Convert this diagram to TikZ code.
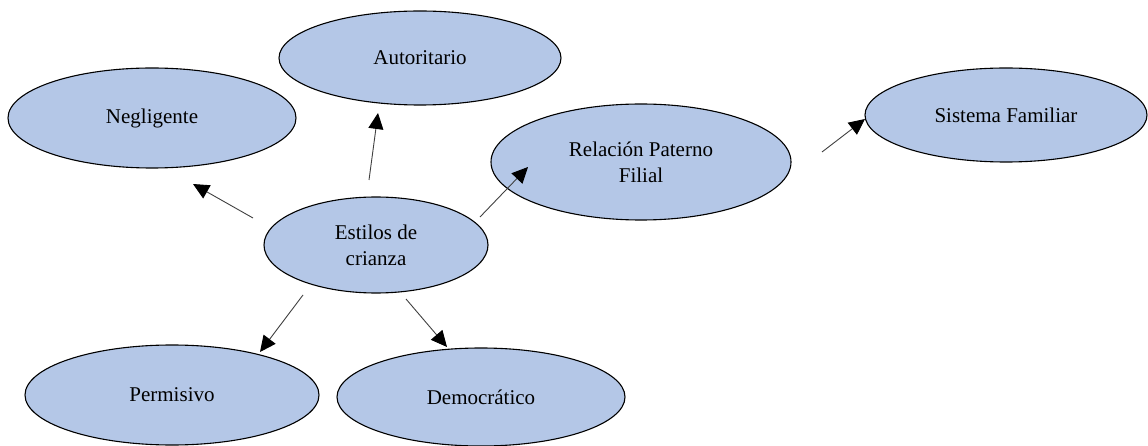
\documentclass[tikz,border=0pt]{standalone}
\usepackage{fontspec}
\setmainfont{Liberation Serif}
\usetikzlibrary{shapes.geometric, positioning, arrows.meta}

\definecolor{azul}{HTML}{B4C7E7}

\tikzset{
  elipse/.style={ellipse, draw=black, line width=1.1pt, fill=azul, inner sep=0pt,
    align=center, font=\fontsize{21}{26}\selectfont},
  flecha/.style={draw=black!75, line width=0.9pt,
    -{Triangle[length=16pt,width=15pt,color=black]}},
}

\begin{document}
\begin{tikzpicture}[x=1pt, y=-1pt]
\useasboundingbox (0,0) rectangle (1148,446);

\node[elipse, minimum width=224pt, minimum height=96pt] (e0) at (376,245) {Estilos de\\crianza};
\node[elipse, minimum width=282pt, minimum height=94pt, on grid] (e1) [above right=187pt and 44pt of e0] {Autoritario};
\node[elipse, minimum width=288pt, minimum height=100pt, on grid] (e2) [above left=127pt and 224pt of e0] {Negligente};
\node[elipse, minimum width=300pt, minimum height=116pt, on grid] (e3) [above right=83pt and 265pt of e0] {Relación Paterno\\Filial};
\node[elipse, minimum width=282pt, minimum height=94pt, on grid] (e4) [above right=130pt and 630pt of e0] {Sistema Familiar};
\node[elipse, minimum width=294pt, minimum height=100pt, on grid] (e5) [below left=150pt and 204pt of e0] {Permisivo};
\node[elipse, minimum width=288pt, minimum height=98pt, on grid] (e6) [below right=152pt and 105pt of e0] {Democrático};

% extremos de las flechas
\coordinate (a1) at (253,218); \coordinate (b1) at (193,184);
\coordinate (a2) at (369,180); \coordinate (b2) at (378,113);
\coordinate (a3) at (480,217); \coordinate (b3) at (528,167);
\coordinate (a4) at (822,152); \coordinate (b4) at (865,119);
\coordinate (a5) at (303,295); \coordinate (b5) at (260,352);
\coordinate (a6) at (406,299); \coordinate (b6) at (447,347);

\draw[flecha] (a1) -- (b1);
\draw[flecha] (a2) -- (b2);
\draw[flecha] (a3) -- (b3);
\draw[flecha] (a4) -- (b4);
\draw[flecha] (a5) -- (b5);
\draw[flecha] (a6) -- (b6);
\end{tikzpicture}
\end{document}
